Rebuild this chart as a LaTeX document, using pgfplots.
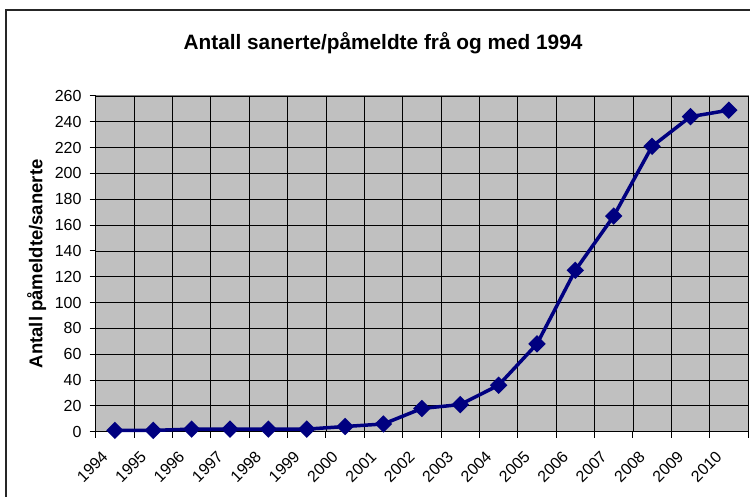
\documentclass[border=0pt]{standalone}
\usepackage{pgfplots}
\pgfplotsset{compat=1.18}
\usepackage{fontspec}
\setmainfont{Liberation Sans}
\definecolor{navyline}{RGB}{0,0,128}
\definecolor{plotgray}{RGB}{192,192,192}
\begin{document}
\begin{tikzpicture}[x=1bp,y=1bp]
\useasboundingbox (0,0) rectangle (750,497);
\draw[line width=1.3bp, black!85] (6,-20) -- (6,487) -- (770,487);
\node[font=\fontsize{20.8bp}{24bp}\selectfont\bfseries] at (383,454) {Antall sanerte/påmeldte frå og med 1994};
\begin{axis}[
  at={(95.7bp,65.3bp)}, anchor=south west,
  scale only axis, width=652.3bp, height=335.7bp,
  xmin=-0.5, xmax=16.5, ymin=0, ymax=260,
  ytick={0,20,...,260},
  xtick={0,...,16},
  xticklabels={1994,1995,1996,1997,1998,1999,2000,2001,2002,2003,2004,2005,2006,2007,2008,2009,2010},
  minor xtick={-0.5,0.5,...,16.5},
  axis lines=left,
  axis line style={-, black, line width=1bp},
  axis background/.style={fill=plotgray, draw=gray, line width=1bp},
  ymajorgrids=true, xmajorgrids=false, xminorgrids=true,
  grid style={black, line width=0.8bp},
  minor grid style={black, line width=0.8bp},
  tick align=outside,
  major tick length=6bp, minor tick length=6bp,
  major x tick style={draw=none},
  every tick/.style={black, line width=1bp},
  minor tick style={black, line width=1bp},
  /pgf/number format/assume math mode=true,
  tick label style={font=\fontsize{16bp}{19bp}\selectfont},
  yticklabel style={anchor=east, inner sep=0pt, xshift=-8bp},
  xticklabel style={xshift=-14bp, yshift=-12bp, rotate=45, anchor=north east, inner sep=0pt},
  every axis y label/.style={at={(axis description cs:0,0.5)}, xshift=-59bp, rotate=90, anchor=center, font=\fontsize{18.5bp}{22bp}\selectfont\bfseries},
  ylabel={Antall påmeldte/sanerte},
  clip=false,
]
\addplot[navyline, line width=3.5bp, mark=square*, mark size=4.4bp, mark options={rotate=45, solid, fill=navyline}] coordinates {
(0,1)(1,1)(2,2)(3,2)(4,2)(5,2)(6,4)(7,6)(8,18)(9,21)(10,36)(11,68)(12,125)(13,167)(14,221)(15,244)(16,249)
};
\end{axis}
\end{tikzpicture}
\end{document}
